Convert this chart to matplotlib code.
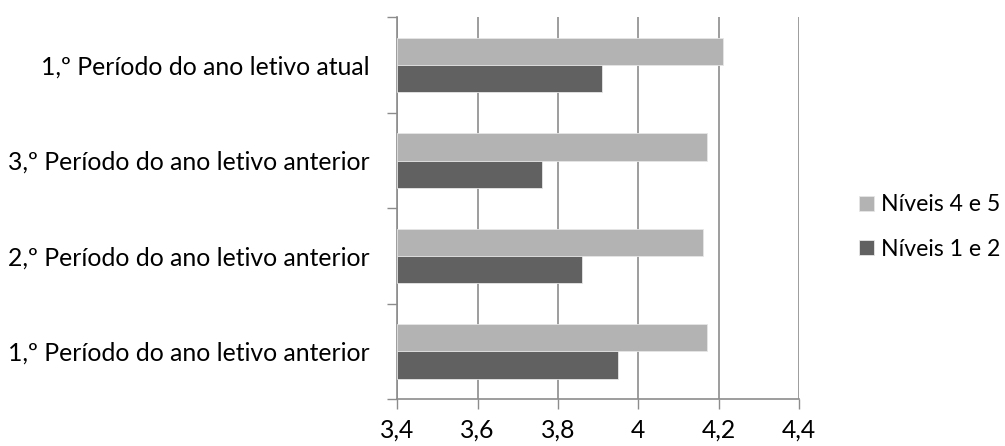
import numpy as np
import matplotlib.pyplot as plt

periodos = ['1,º Período do ano letivo anterior',
            '2,º Período do ano letivo anterior',
            '3,º Período do ano letivo anterior',
            '1,º Período do ano letivo atual']
niveis_45 = [4.17, 4.16, 4.17, 4.21]
niveis_12 = [3.95, 3.86, 3.76, 3.91]
xticks = [3.4, 3.6, 3.8, 4.0, 4.2, 4.4]
xlabels = ['3,4', '3,6', '3,8', '4', '4,2', '4,4']

plt.rcParams['font.family'] = ['Lato', 'DejaVu Sans']
fs = 17.8

fig = plt.figure(figsize=(10.05, 4.46), dpi=100)
ax = fig.add_axes([0.3953, 0.105, 0.3997, 0.856])

y = np.arange(len(periodos))
h = 1 / 3.5
ax.barh(y + h / 2, np.array(niveis_45) - 3.4, h, left=3.4, color='#b3b3b3',
        edgecolor='#e6e6e6', linewidth=0.6, label='Níveis 4 e 5', zorder=3)
ax.barh(y - h / 2, np.array(niveis_12) - 3.4, h, left=3.4, color='#616161',
        edgecolor='#e6e6e6', linewidth=0.6, label='Níveis 1 e 2', zorder=3)

ax.set_xlim(3.4, 4.4)
ax.set_ylim(-0.5, len(periodos) - 0.5)
ax.set_xticks(xticks)
ax.set_xticklabels(xlabels, fontsize=fs)
ax.set_yticks(np.arange(-0.5, len(periodos), 1.0))
ax.set_yticklabels([])
ax.set_yticks(y, minor=True)
ax.set_yticklabels(periodos, minor=True, fontsize=fs)
ax.tick_params(axis='y', which='minor', length=0, pad=20)
ax.tick_params(axis='y', which='major', length=7, color='#8c8c8c', width=1)
ax.tick_params(axis='x', length=7, color='#8c8c8c', width=1, pad=7)

ax.grid(axis='x', color='#8c8c8c', linewidth=1.2, zorder=0)
for s in ['top', 'right']:
    ax.spines[s].set_visible(False)
for s in ['left', 'bottom']:
    ax.spines[s].set_color('#8c8c8c')
    ax.spines[s].set_linewidth(1.2)

# legend to the right of the plot
fig.legend(loc='center left', bbox_to_anchor=(0.8547, 0.491), frameon=False,
           fontsize=16.6, handlelength=0.65, handleheight=0.65, borderpad=0,
           borderaxespad=0, handletextpad=0.3, labelspacing=1.0)

fig.savefig('out.png', dpi=100)
